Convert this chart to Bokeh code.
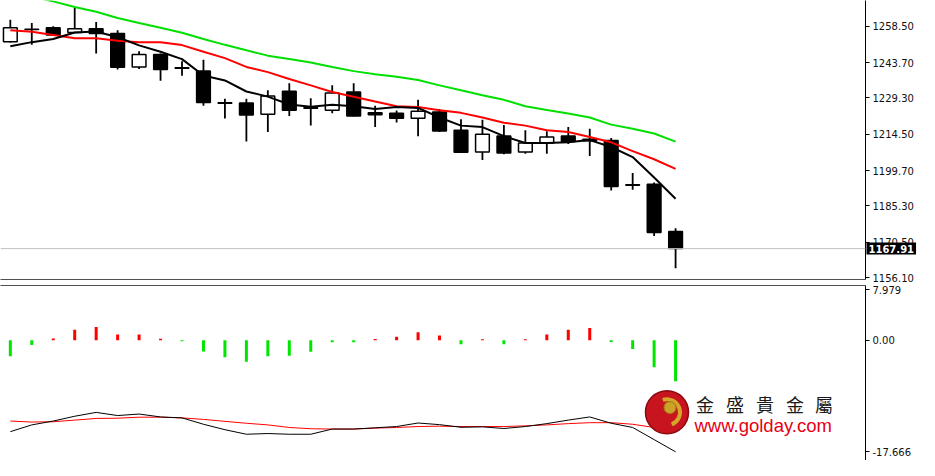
from bokeh.plotting import figure
from bokeh.layouts import column
from bokeh.models import Range1d, FixedTicker, LinearAxis, Span, Label, ColumnDataSource
from bokeh.core.properties import value
from bokeh.embed import file_html
from bokeh.resources import INLINE

# ---------------- data ----------------
opens = [1252.2, 1257.3, 1257.9, 1255.9, 1257.5, 1255.5, 1241.9, 1247.0, 1241.6, 1240.2,
         1227.3, 1227.2, 1222.6, 1232.0, 1225.3, 1224.3, 1231.7, 1223.2, 1223.0, 1221.0,
         1223.5, 1216.1, 1207.3, 1213.8, 1207.3, 1210.9, 1213.8, 1212.4, 1211.9, 1193.9,
         1194.1, 1174.9]
highs = [1261.1, 1259.8, 1258.5, 1266.1, 1260.2, 1256.8, 1248.3, 1247.4, 1244.2, 1244.8,
         1228.9, 1228.9, 1232.4, 1235.3, 1229.1, 1234.4, 1235.3, 1226.1, 1224.2, 1228.5,
         1224.8, 1220.6, 1220.4, 1218.3, 1216.1, 1215.7, 1217.4, 1216.7, 1213.0, 1198.7,
         1194.8, 1176.2]
lows = [1251.9, 1250.9, 1254.5, 1255.6, 1247.4, 1240.9, 1241.1, 1236.3, 1238.3, 1226.1,
        1220.9, 1211.5, 1215.4, 1221.9, 1218.0, 1223.0, 1221.7, 1217.4, 1219.3, 1213.7,
        1215.4, 1206.9, 1204.0, 1206.3, 1206.5, 1206.5, 1210.5, 1205.6, 1191.6, 1191.9,
        1173.0, 1159.9]
closes = [1257.9, 1257.1, 1254.9, 1257.5, 1255.5, 1241.8, 1247.0, 1240.9, 1241.4, 1227.4,
          1227.1, 1222.3, 1230.1, 1224.3, 1225.1, 1231.3, 1221.9, 1222.4, 1221.0, 1223.9,
          1215.8, 1207.2, 1214.5, 1206.9, 1210.9, 1213.4, 1211.5, 1211.8, 1193.2, 1193.7,
          1174.5, 1167.91]

ma_fast = [1250.3, 1252.0, 1253.3, 1255.9, 1256.3, 1254.0, 1250.7, 1248.1, 1245.1, 1238.4,
           1236.4, 1231.9, 1229.8, 1226.6, 1225.7, 1226.5, 1225.9, 1224.8, 1225.6, 1225.2,
           1221.3, 1218.0, 1217.4, 1213.7, 1210.9, 1210.9, 1211.2, 1212.1, 1209.3, 1205.2,
           1196.9, 1188.2]
ma_mid = [1256.8, 1256.2, 1254.9, 1253.6, 1253.6, 1252.6, 1252.0, 1252.0, 1250.8, 1248.1,
          1245.5, 1241.9, 1239.8, 1237.0, 1234.4, 1231.7, 1229.8, 1227.8, 1225.9, 1225.6,
          1224.3, 1223.2, 1221.3, 1219.2, 1218.0, 1216.1, 1215.4, 1213.4, 1211.2, 1207.6,
          1204.3, 1200.4]
ma_slow = [1272.9, 1270.5, 1268.6, 1266.3, 1264.4, 1261.8, 1259.8, 1257.9, 1255.8, 1253.3,
           1250.9, 1248.7, 1246.5, 1245.1, 1243.7, 1241.9, 1240.2, 1238.9, 1237.9, 1236.6,
           1234.4, 1232.4, 1230.4, 1228.5, 1225.9, 1224.4, 1222.9, 1221.3, 1218.4, 1216.7,
           1214.8, 1211.5]

hist = [-2.54, -0.76, 0.30, 1.68, 2.09, 0.91, 0.91, 0.26, -0.15, -1.78,
        -2.70, -3.40, -2.54, -2.44, -1.83, -0.30, -0.30, 0.20, 0.56, 1.26,
        0.76, -0.61, 0.15, -0.61, 0.15, 0.91, 1.68, 1.93, -0.26, -1.37,
        -4.26, -6.50]
macd_line = [-14.47, -13.40, -12.79, -12.03, -11.42, -11.92, -11.68, -12.14, -12.29, -13.30,
             -14.16, -14.88, -14.77, -14.88, -14.88, -14.06, -14.06, -13.86, -13.66, -13.10,
             -13.36, -13.78, -13.71, -13.97, -13.66, -13.20, -12.64, -12.14, -13.14, -13.81,
             -15.73, -17.666]
signal_line = [-12.79, -12.95, -12.90, -12.64, -12.38, -12.34, -12.18, -12.18, -12.29, -12.53,
               -12.84, -13.14, -13.40, -13.81, -14.01, -14.06, -14.06, -13.91, -13.81, -13.66,
               -13.60, -13.66, -13.66, -13.66, -13.55, -13.40, -13.20, -13.05, -13.05, -13.30,
               -13.81, -14.47]

last_price = 1167.91
last_price_label = "1167.91"
price_ticks = [1258.50, 1243.70, 1229.30, 1214.50, 1199.70, 1185.30, 1170.50, 1156.10]
price_tick_labels = ["1258.50", "1243.70", "1229.30", "1214.50", "1199.70", "1185.30", "1170.50", "1156.10"]
osc_ticks = [7.979, 0.0, -17.666]
osc_tick_labels = ["7.979", "0.00", "-17.666"]
logo_chars = ["金", "盛", "貴", "金", "屬"]
logo_url = "www.golday.com"

# ---------------- layout constants ----------------
FW = 865
AXIS_W = 54
FONT = "DejaVu Sans"

x_range = Range1d(-0.458, 39.85)

idx = list(range(len(closes)))
src = ColumnDataSource(dict(
    x=idx, o=opens, h=highs, l=lows, c=closes,
    top=[max(a, b) for a, b in zip(opens, closes)],
    bottom=[min(a, b) for a, b in zip(opens, closes)],
    fill=["black" if c < o else "white" for o, c in zip(opens, closes)],
))


def style_right_axis(ax, ticks, labels):
    ax.ticker = FixedTicker(ticks=ticks)
    ax.major_label_overrides = {t: s for t, s in zip(ticks, labels)}
    ax.minor_tick_line_color = None
    ax.major_tick_in = 0
    ax.major_tick_out = 4
    ax.major_tick_line_color = "black"
    ax.axis_line_color = "black"
    ax.axis_line_width = 1
    ax.major_label_standoff = 3
    ax.major_label_text_font = FONT
    ax.major_label_text_font_size = "10px"
    ax.major_label_text_color = "#111111"


def sep_axis():
    return LinearAxis(ticker=FixedTicker(ticks=[]), major_label_text_font_size="0px",
                      axis_line_color="#505050", axis_line_width=1,
                      major_tick_line_color=None, minor_tick_line_color=None,
                      major_tick_out=0, major_tick_in=0, major_label_standoff=0)


# ---------------- main price panel ----------------
p1 = figure(frame_width=FW, frame_height=279, x_range=x_range,
            y_range=Range1d(1155.33, 1268.96), y_axis_location="right",
            x_axis_location=None, toolbar_location=None, output_backend="svg",
            min_border_left=0, min_border_top=0, min_border_right=AXIS_W,
            min_border_bottom=6, background_fill_color="white",
            border_fill_color="white")
p1.grid.visible = False
p1.outline_line_color = None
style_right_axis(p1.yaxis[0], price_ticks, price_tick_labels)
p1.add_layout(sep_axis(), "below")

p1.add_layout(Span(location=last_price, dimension="width", line_color="#c0c0c0", line_width=1))

p1.segment(x0="x", y0="h", x1="x", y1="l", line_color="black", line_width=1.8, source=src)
p1.vbar(x="x", top="top", bottom="bottom", width=0.64, fill_color="fill",
        line_color="black", line_width=1.5, source=src)

p1.line(idx, ma_slow, line_color="#00e000", line_width=2)
p1.line(idx, ma_mid, line_color="#ff0000", line_width=2)
p1.line(idx, ma_fast, line_color="black", line_width=2)

# current-price tag, placed in the right side panel so that it is not clipped to the frame
tag = Label(x=39.85, y=last_price, x_offset=1, text=last_price_label,
            text_color="white", text_font=FONT, text_font_size="10px",
            text_font_style="bold", text_baseline="middle", text_align="left",
            background_fill_color="black", padding=2)
p1.add_layout(tag, "right")

# ---------------- oscillator panel ----------------
p2 = figure(frame_width=FW, frame_height=175, x_range=x_range,
            y_range=Range1d(-19.04, 8.68), y_axis_location="right",
            x_axis_location=None, toolbar_location=None, output_backend="svg",
            min_border_left=0, min_border_top=0, min_border_right=AXIS_W,
            min_border_bottom=0, background_fill_color="white",
            border_fill_color="white")
p2.grid.visible = False
p2.outline_line_color = None
style_right_axis(p2.yaxis[0], osc_ticks, osc_tick_labels)
p2.add_layout(sep_axis(), "above")

hsrc = ColumnDataSource(dict(x=idx, v=hist,
                             col=["#00e600" if v < 0 else "#ff0000" for v in hist]))
p2.vbar(x="x", top="v", bottom=0, width=0.14, fill_color="col", line_color=None, source=hsrc)
p2.line(idx, signal_line, line_color="#ff0000", line_width=1)
p2.line(idx, macd_line, line_color="black", line_width=1)

# watermark logo
p2.scatter([30.60], [-11.39], size=43, marker="circle", fill_color="#c8141e",
           line_color="#8a0a10", line_width=1.5)
p2.annular_wedge([30.60], [-11.39], inner_radius=11, outer_radius=15,
                 inner_radius_units="screen", outer_radius_units="screen",
                 start_angle=-1.2, end_angle=1.9, fill_color="#d4a62a", line_color=None)
p2.scatter([30.74], [-10.66], size=12, marker="circle", fill_color="#c9a227",
           line_color="#a07c10")
p2.text([32.37] * 5, [-10.13] * 5, text=logo_chars, x_offset=[0, 30, 60, 90, 119],
        text_font=value("Noto Sans CJK TC"), text_font_size="18px", text_color="#1a1a1a",
        text_align="center", text_baseline="middle")
p2.text([31.88], [-13.55], text=[logo_url], text_font=value("Liberation Sans"),
        text_font_size="18.5px", text_color="#e60012", text_align="left",
        text_baseline="alphabetic")

layout = column(p1, p2, spacing=0)
open("out.html", "w").write(file_html(layout, INLINE))
